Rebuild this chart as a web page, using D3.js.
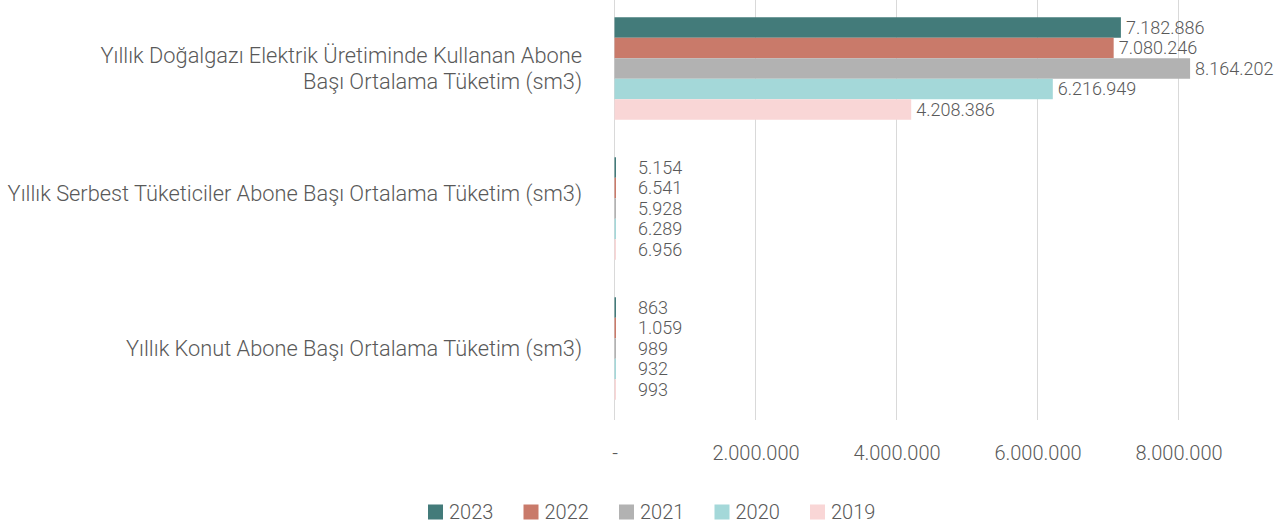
<!DOCTYPE html>
<html>
<head>
<meta charset="utf-8">
<script src="https://cdn.jsdelivr.net/npm/d3@7"></script>
<style>
  body { margin: 0; background: #fff; }
  svg { font-family: Roboto, "Noto Sans", sans-serif; font-weight: 300; }
</style>
</head>
<body>
<div id="chart"></div>
<script>
// categories (top to bottom) and series
const categories = [
  ["Yıllık Doğalgazı Elektrik Üretiminde Kullanan Abone", "Başı Ortalama Tüketim (sm3)"],
  ["Yıllık Serbest Tüketiciler Abone Başı Ortalama Tüketim (sm3)"],
  ["Yıllık Konut Abone Başı Ortalama Tüketim (sm3)"]
];
const years = ["2023", "2022", "2021", "2020", "2019"];
const colors = ["#437b7a", "#c97a6a", "#b2b2b2", "#a4d8d9", "#f9d6d6"];
const values2023 = [7182886, 5154, 863];
const values2022 = [7080246, 6541, 1059];
const values2021 = [8164202, 5928, 989];
const values2020 = [6216949, 6289, 932];
const values2019 = [4208386, 6956, 993];
const xTicks = [0, 2000000, 4000000, 6000000, 8000000];

const series = [values2023, values2022, values2021, values2020, values2019];

const width = 1288, height = 532;
const svg = d3.select("#chart").append("svg")
  .attr("width", width)
  .attr("height", height);

const fmt = v => v === 0 ? "-" : d3.format(",")(v).replace(/,/g, ".");

const x = d3.scaleLinear().domain([0, 8000000]).range([614.5, 1178.5]);
const y0 = d3.scaleBand().domain(d3.range(categories.length)).range([-1.5, 418.5]).paddingInner(0.268).paddingOuter(0.134);
const y1 = d3.scaleBand().domain(d3.range(years.length)).range([0, y0.bandwidth()]);

// gridlines
svg.append("g").selectAll("line").data(xTicks).join("line")
  .attr("x1", d => x(d)).attr("x2", d => x(d))
  .attr("y1", 0).attr("y2", 420)
  .attr("stroke", "#d9d9d9").attr("stroke-width", 1);

// tick labels via axis
const axis = svg.append("g").attr("transform", "translate(0,446)")
  .call(d3.axisBottom(x).tickValues(xTicks).tickFormat(fmt).tickSize(0).tickPadding(0));
axis.select(".domain").remove();
axis.selectAll("text").attr("font-size", 20).attr("fill", "#595959")
  .attr("font-family", "Roboto").attr("font-weight", 300);

// bars
const groups = svg.append("g").selectAll("g").data(categories).join("g")
  .attr("transform", (d, i) => `translate(0,${y0(i)})`);

groups.each(function (c, ci) {
  const g = d3.select(this);
  const rows = years.map((yr, si) => ({ si, v: series[si][ci] }));
  g.selectAll("rect").data(rows).join("rect")
    .attr("x", x(0))
    .attr("y", d => y1(d.si))
    .attr("width", d => Math.max(x(d.v) - x(0), 1.5))
    .attr("height", y1.bandwidth())
    .attr("fill", d => colors[d.si]);
  g.selectAll("text").data(rows).join("text")
    .attr("x", d => Math.max(x(d.v) + 5, 638))
    .attr("y", d => y1(d.si) + y1.bandwidth() / 2)
    .attr("dy", "0.35em")
    .attr("font-size", 18)
    .attr("fill", "#595959")
    .text(d => fmt(d.v));
});

// category labels (the single-line middle one sits a little high, like the original)
const labelShift = [0, -15, 0];
svg.append("g").selectAll("text").data(categories).join("text")
  .attr("text-anchor", "end")
  .attr("font-size", 21.8)
  .attr("fill", "#595959")
  .attr("transform", (d, i) => `translate(582,${y0(i) + y0.bandwidth() / 2 + labelShift[i]})`)
  .each(function (lines) {
    const t = d3.select(this);
    const lh = 26;
    lines.forEach((ln, k) => {
      t.append("tspan").attr("x", 0)
        .attr("y", (k - (lines.length - 1) / 2) * lh)
        .attr("dy", "0.35em").text(ln);
    });
  });

// legend
const legend = svg.append("g").selectAll("g").data(years).join("g")
  .attr("transform", (d, i) => `translate(${428 + i * 95.5},512)`);
legend.append("rect").attr("x", 0).attr("y", -7.5).attr("width", 15).attr("height", 15)
  .attr("fill", (d, i) => colors[i]);
legend.append("text").attr("x", 21).attr("dy", "0.35em")
  .attr("font-size", 20).attr("fill", "#595959").text(d => d);
</script>
</body>
</html>
